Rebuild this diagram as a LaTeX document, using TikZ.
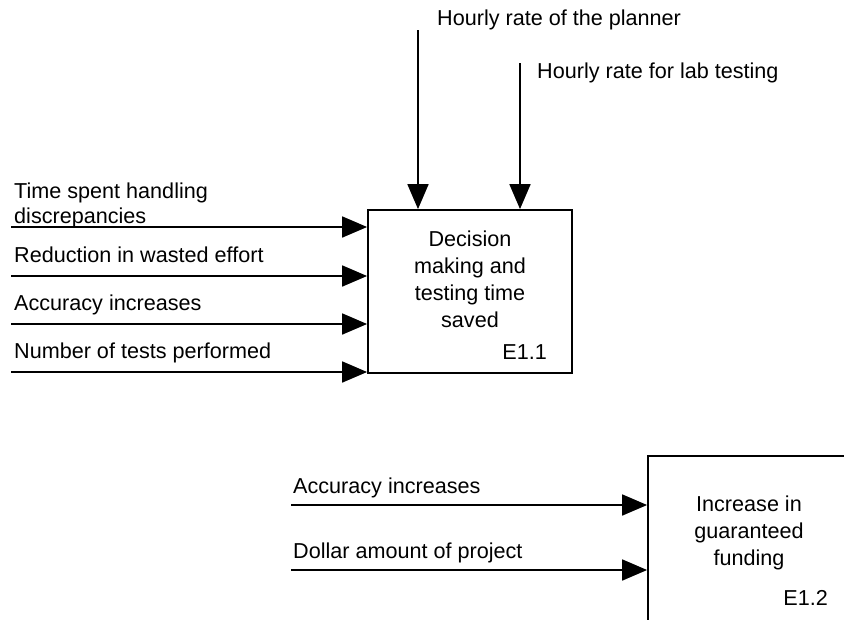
\documentclass[tikz,border=0pt]{standalone}
\usepackage{fontspec}
\setmainfont{Liberation Sans}
\usetikzlibrary{arrows.meta}
\begin{document}
\begin{tikzpicture}[x=1pt,y=-1pt,
  lbl/.style={font=\fontsize{21.6}{25}\selectfont, inner sep=0pt},
  boxtext/.style={font=\fontsize{21.6}{27}\selectfont, inner sep=0pt, align=center},
  proc/.style={draw, line width=1.8pt, inner sep=0pt},
  flow/.style={line width=1.8pt, -{Triangle[length=25pt,width=21pt]}}]
\useasboundingbox (0,0) rectangle (844,619);

% activity boxes
\node[proc, minimum width=204pt, minimum height=163pt] (b1) at (470,291.5) {};
\begin{scope}
  \clip (0,0) rectangle (844,619);
  \node[proc, minimum width=300pt, minimum height=300pt] (b2) at (798,606) {};
\end{scope}

% box captions (anchored on the baseline of their last line)
\node[boxtext, anchor=base] (t1) at (470,327)
  {Decision\\making and\\testing time\\saved};
\node[lbl, anchor=base east] (id1) at (547,359) {E1.1};
\node[boxtext, anchor=base] (t2) at (749,565)
  {Increase in\\guaranteed\\funding};
\node[lbl, anchor=base east] (id2) at (828,605) {E1.2};

% controls entering from above
\coordinate (c1) at (418,30);
\coordinate (c2) at (520,63);
\draw[flow] (c1) -- (c1 |- b1.north);
\draw[flow] (c2) -- (c2 |- b1.north);
\node[lbl, anchor=base west] (lc1) at (437,25) {Hourly rate of the planner};
\node[lbl, anchor=base west] (lc2) at (537,78) {Hourly rate for lab testing};

% inputs of E1.1
\coordinate (i1) at (11,227);
\coordinate (i2) at (11,276);
\coordinate (i3) at (11,324);
\coordinate (i4) at (11,372);
\foreach \p in {i1,i2,i3,i4} \draw[flow] (\p) -- (\p -| b1.west);
\node[lbl, align=left, anchor=base west] (li1) at (14,223)
  {Time spent handling\\discrepancies};
\node[lbl, anchor=base west] (li2) at (14,262) {Reduction in wasted effort};
\node[lbl, anchor=base west] (li3) at (14,310) {Accuracy increases};
\node[lbl, anchor=base west] (li4) at (14,358) {Number of tests performed};

% inputs of E1.2
\coordinate (j1) at (291,505);
\coordinate (j2) at (291,570);
\draw[flow] (j1) -- (j1 -| b2.west);
\draw[flow] (j2) -- (j2 -| b2.west);
\node[lbl, anchor=base west] (lj1) at (293,493) {Accuracy increases};
\node[lbl, anchor=base west] (lj2) at (293,558) {Dollar amount of project};
\end{tikzpicture}
\end{document}
